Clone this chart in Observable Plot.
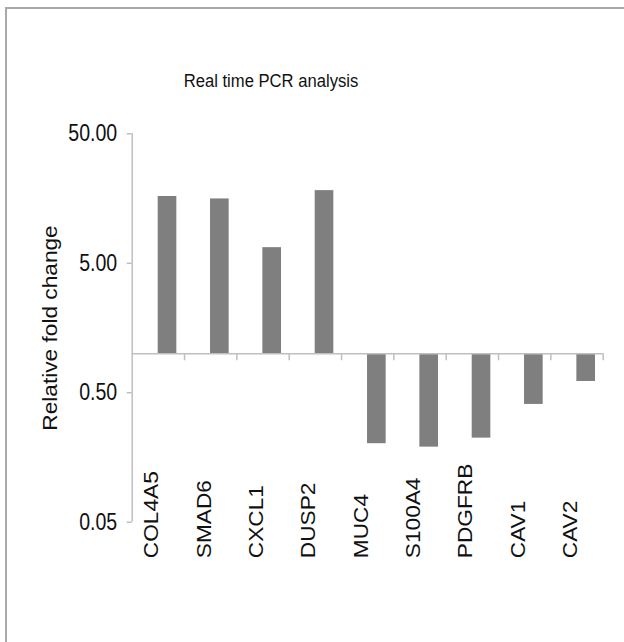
<!DOCTYPE html>
<html>
<head>
<meta charset="utf-8">
<script src="https://cdn.jsdelivr.net/npm/d3@7"></script>
<script src="https://cdn.jsdelivr.net/npm/@observablehq/plot@0.6"></script>
<style>
  html, body { margin: 0; padding: 0; background: #fff; }
  #wrap { position: relative; width: 624px; height: 642px; overflow: hidden; font-family: "Liberation Sans", Arial, sans-serif; }
  #border { position: absolute; left: 5px; top: 7px; width: 700px; height: 700px; border-top: 2px solid #a9a9a9; border-left: 2px solid #a9a9a9; }
  #title { position: absolute; left: 0; width: 542px; top: 72.5px; text-align: center; font-size: 17.5px; line-height: 17.5px; color: #111; transform: scaleX(0.95); transform-origin: 271px 0; }
  #chart { position: absolute; left: 0; top: 0; }
</style>
</head>
<body>
<div id="wrap">
  <div id="border"></div>
  <div id="title">Real time PCR analysis</div>
  <div id="chart"></div>
</div>
<script>
const genes = ["COL4A5", "SMAD6", "CXCL1", "DUSP2", "MUC4", "S100A4", "PDGFRB", "CAV1", "CAV2"];
const foldChange = [16.4, 15.7, 6.6, 18.2, 0.202, 0.190, 0.223, 0.406, 0.611];
const yTicks = [0.05, 0.5, 5, 50];
const yLabel = "Relative fold change";

const data = genes.map((g, i) => ({gene: g, value: foldChange[i]}));
const axisColor = "#bfbfbf";
const W = 624, H = 642, mL = 131.7, mR = 21.3, mT = 133.3, mB = 120.3;
const band = (W - mL - mR) / genes.length;

const chart = Plot.plot({
  width: W,
  height: H,
  marginLeft: mL,
  marginRight: mR,
  marginTop: mT,
  marginBottom: mB,
  style: {fontFamily: "'Liberation Sans', Arial, sans-serif", background: "transparent", color: "#111"},
  x: {domain: genes, padding: 0, round: false, axis: null},
  y: {type: "log", domain: [0.05, 50], axis: null},
  marks: [
    Plot.ruleX([genes[0]], {x: d => d, dx: -band / 2, y1: yTicks[0], y2: yTicks[yTicks.length - 1], stroke: axisColor, strokeWidth: 1.5}),
    Plot.tickY(yTicks, {y: d => d, x: () => genes[0], insetRight: band - 5, dx: -5, stroke: axisColor, strokeWidth: 1.5}),
    Plot.text(yTicks, {y: d => d, frameAnchor: "left", dx: -15, textAnchor: "end", text: d3.format(".2f"), fontSize: 23, fill: "#111"}),
    Plot.text([yLabel], {frameAnchor: "left", dx: -82, rotate: -90, textAnchor: "middle", fontSize: 21, fill: "#111"}),
    Plot.barY(data, {x: "gene", y1: 1, y2: "value", fill: "#7f7f7f", insetLeft: 26, insetRight: 7.7}),
    Plot.ruleY([1], {stroke: axisColor, strokeWidth: 1.5}),
    Plot.ruleX(genes, {x: d => d, y1: 1, y2: 1, dx: band / 2, insetBottom: -7, stroke: axisColor, strokeWidth: 1.5}),
    Plot.text(genes, {x: d => d, frameAnchor: "bottom", dy: 36, rotate: -90, textAnchor: "start", fontSize: 21, fill: "#111"})
  ]
});
// match the reference's stretched glyph proportions
const textGroups = chart.querySelectorAll('g[aria-label="text"]');
const scales = ["scale(0.85,1)", "scale(1.08,1)", "scale(1.08,1)"];
textGroups.forEach((g, k) => {
  g.querySelectorAll("text").forEach(t => {
    const tr = t.getAttribute("transform") || "";
    t.setAttribute("transform", tr + " " + scales[k]);
  });
});
document.getElementById("chart").appendChild(chart);
</script>
</body>
</html>
